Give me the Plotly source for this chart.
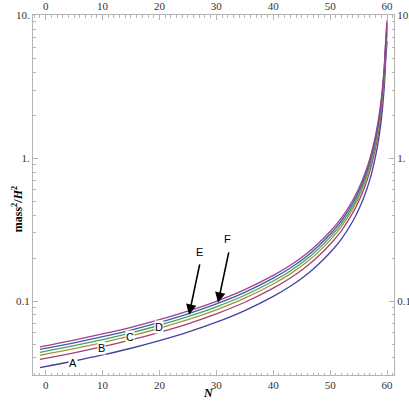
import math
import plotly.graph_objects as go

# e-folds N
n_vals = [-1, 5, 10, 15, 20, 25, 30, 35, 40, 43, 46, 48, 50, 52, 54, 55, 56, 57, 58, 58.5, 59, 59.5, 59.8, 60]

# mass^2/H^2, bottom curve (A) to top curve (F)
curve_a = [0.0342, 0.0381, 0.0420, 0.0468, 0.0529, 0.0607, 0.0712, 0.0859, 0.108, 0.127, 0.155, 0.182,
           0.219, 0.273, 0.364, 0.436, 0.542, 0.714, 1.045, 1.34, 1.88, 3.12, 5.08, 6.6]
curve_b = [0.0391, 0.0435, 0.0480, 0.0535, 0.0605, 0.0694, 0.0814, 0.0982, 0.1234, 0.1452, 0.1772, 0.2080,
           0.2503, 0.3120, 0.4161, 0.4983, 0.6195, 0.8161, 1.194, 1.532, 2.149, 3.566, 5.806, 7.544]
curve_c = [0.0418, 0.0465, 0.0513, 0.0571, 0.0646, 0.0741, 0.0869, 0.1049, 0.1319, 0.1551, 0.1893, 0.2222,
           0.2674, 0.3333, 0.4444, 0.5324, 0.6618, 0.8718, 1.276, 1.636, 2.295, 3.810, 6.203, 8.059]
curve_d = [0.0438, 0.0488, 0.0538, 0.0600, 0.0678, 0.0778, 0.0912, 0.1100, 0.1383, 0.1627, 0.1986, 0.2331,
           0.2805, 0.3497, 0.4663, 0.5585, 0.6943, 0.9146, 1.339, 1.717, 2.408, 3.997, 6.507, 8.455]
curve_e = [0.0459, 0.0511, 0.0564, 0.0628, 0.0710, 0.0815, 0.0956, 0.1153, 0.1449, 0.1704, 0.2080, 0.2442,
           0.2939, 0.3664, 0.4885, 0.5851, 0.7274, 0.9582, 1.402, 1.798, 2.523, 4.187, 6.817, 8.857]
curve_f = [0.0479, 0.0534, 0.0589, 0.0656, 0.0742, 0.0851, 0.0998, 0.1204, 0.1514, 0.1781, 0.2173, 0.2552,
           0.3070, 0.3827, 0.5103, 0.6113, 0.7599, 1.001, 1.465, 1.879, 2.636, 4.374, 7.122, 9.253]

curves = [curve_a, curve_b, curve_c, curve_d, curve_e, curve_f]
colors = ["#4241A3", "#A3407A", "#A39540", "#40A361", "#4059A3", "#A04092"]

# on-curve labels (N, value)
labels = ["A", "B", "C", "D"]
label_n = [4.85, 9.84, 14.8, 19.9]
label_v = [0.0368, 0.0469, 0.0565, 0.0664]

# arrows: text position and arrow head (N, value)
arrow_text = ["E", "F"]
arrow_text_n = [27.0, 31.9]
arrow_text_v = [0.221, 0.273]
arrow_head_n = [25.2, 30.3]
arrow_head_v = [0.0802, 0.0973]

x_ticks = [0, 10, 20, 30, 40, 50, 60]
y_ticks = [0.1, 1, 10]
y_ticktext = ["0.1", "1.", "10."]
x_minor = [v for v in range(-2, 62) if v % 10 != 0]
y_minor = [m * 10 ** e for e in (-2, -1, 0) for m in range(2, 10)]

fig = go.Figure()
for vals, col in zip(curves, colors):
    fig.add_trace(go.Scatter(x=n_vals, y=vals, mode="lines", line=dict(color=col, width=1.3, shape="spline"),
                             showlegend=False, hoverinfo="skip"))
# dummy trace for the top/right axes
fig.add_trace(go.Scatter(x=[30], y=[1], xaxis="x2", yaxis="y2", mode="markers", opacity=0,
                         showlegend=False, hoverinfo="skip"))

sans = dict(family="Liberation Sans, Arial", size=11, color="black")
serif_b = dict(family="Liberation Serif, Times New Roman", size=12, color="black")

annotations = []
for t, n, v in zip(labels, label_n, label_v):
    annotations.append(dict(x=n, y=math.log10(v), text=t, showarrow=False, bgcolor="white", borderpad=0,
                            font=sans))
for t, tn, tv, hn, hv in zip(arrow_text, arrow_text_n, arrow_text_v, arrow_head_n, arrow_head_v):
    annotations.append(dict(x=tn, y=math.log10(tv), text=t, showarrow=False, font=sans))
    annotations.append(dict(x=hn, y=math.log10(hv), ax=11, ay=-52, text="", showarrow=True,
                            arrowhead=2, arrowsize=1.3, arrowwidth=1.6, arrowcolor="black"))

# axis titles as paper annotations for exact placement
annotations.append(dict(x=-0.042, y=0.46, xref="paper", yref="paper", xanchor="center", yanchor="middle",
                        textangle=-90, showarrow=False,
                        text="<b>mass<sup>2</sup>/<i>H</i><sup>2</sup></b>", font=serif_b))
annotations.append(dict(x=0.4875, y=-0.05, xref="paper", yref="paper", xanchor="center", yanchor="middle",
                        showarrow=False, text="<b><i>N</i></b>", font=serif_b))

frame = "#b4b4b4"
tickfont = dict(family="Liberation Serif, Times New Roman", size=11, color="#333")
xcommon = dict(range=[-2.22, 61.22], tickvals=x_ticks, ticks="inside", ticklen=5, tickcolor=frame,
               showline=True, linecolor=frame, linewidth=1, showgrid=False, zeroline=False,
               tickfont=tickfont, automargin=False,
               minor=dict(tickvals=x_minor, ticks="inside", ticklen=2.5, tickcolor=frame, showgrid=False))
ycommon = dict(type="log", range=[-1.517, 1.003], tickvals=y_ticks, ticktext=y_ticktext, ticks="inside",
               ticklen=5, tickcolor=frame, showline=True, linecolor=frame, linewidth=1, showgrid=False,
               zeroline=False, tickfont=tickfont, automargin=False,
               minor=dict(tickvals=y_minor, ticks="inside", ticklen=2.5, tickcolor=frame, showgrid=False))

fig.update_layout(
    width=409, height=405,
    margin=dict(l=33, r=15, t=15, b=30, autoexpand=False),
    paper_bgcolor="white", plot_bgcolor="white",
    xaxis=xcommon,
    yaxis=ycommon,
    xaxis2=dict(**xcommon, overlaying="x", side="top"),
    yaxis2=dict(**ycommon, overlaying="y", side="right"),
    annotations=annotations,
)

# drop the page's default body margin so the figure sits at the window's corner
fig.write_html("out.html", config={"displayModeBar": False},
               post_script="document.body.style.margin='0';")
